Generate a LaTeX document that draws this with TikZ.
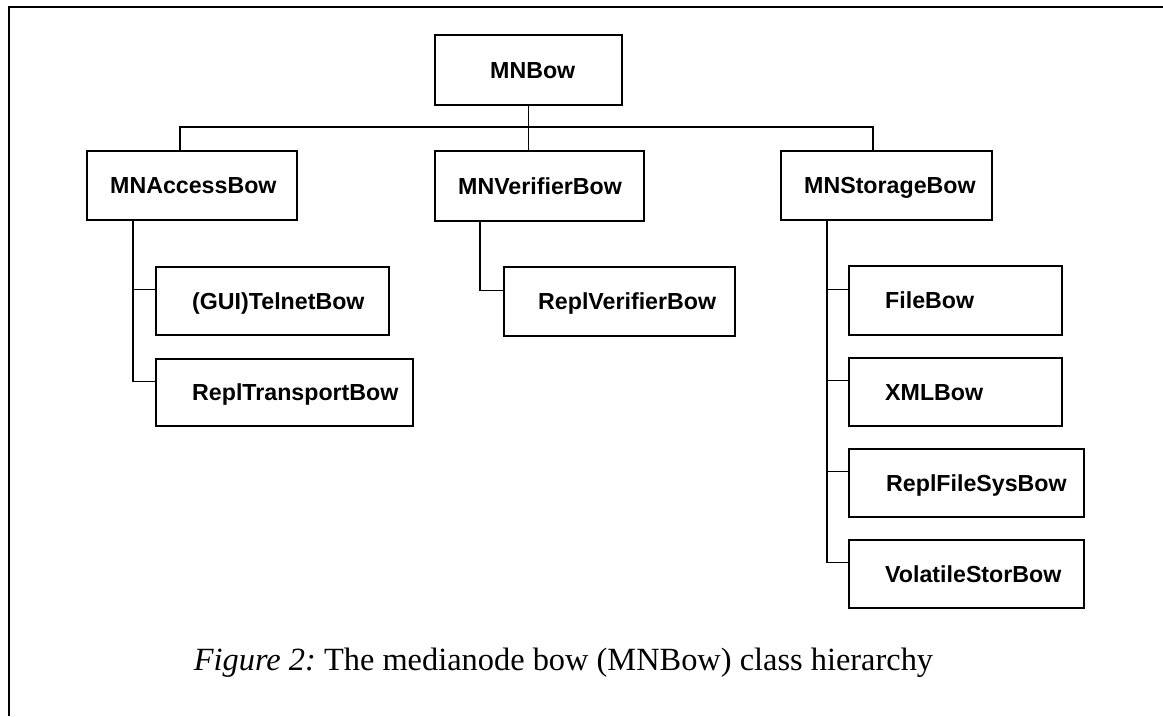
\documentclass[tikz,border=0pt]{standalone}
\usepackage{fontspec}
\setmainfont{Liberation Serif}
\newfontfamily\boxfont{Liberation Sans}
\begin{document}
\begin{tikzpicture}[x=1pt,y=-1pt,
  cls/.style={draw, line width=1.5pt, anchor=north west, inner sep=0pt},
  lbl/.style={font=\boxfont\bfseries\fontsize{23.2}{27}\selectfont, anchor=west, inner sep=0pt, text height=16.5pt, text depth=0pt},
  link/.style={line width=1.3pt},
  frame/.style={line width=1.4pt}
]
\useasboundingbox (0,0) rectangle (1163,716);
\draw[frame] (9,716) -- (9,7) -- (1163,7);

% boxes
\node[cls, minimum width=187pt, minimum height=70pt] (mnbow) at (434,34) {};
\node[cls, minimum width=210pt, minimum height=69pt] (acc) at (86,150) {};
\node[cls, minimum width=209pt, minimum height=70pt] (ver) at (434,150) {};
\node[cls, minimum width=211pt, minimum height=69pt] (sto) at (780,150) {};
\node[cls, minimum width=233pt, minimum height=68pt] (gui) at (155,266) {};
\node[cls, minimum width=257pt, minimum height=67pt] (rt) at (155,358) {};
\node[cls, minimum width=231pt, minimum height=69pt] (rv) at (503,266) {};
\node[cls, minimum width=213pt, minimum height=69pt] (fb) at (848,265) {};
\node[cls, minimum width=213pt, minimum height=68pt] (xml) at (848,357) {};
\node[cls, minimum width=235pt, minimum height=68pt] (rfs) at (848,448) {};
\node[cls, minimum width=235pt, minimum height=68pt] (vol) at (848,539) {};

% labels
\node[lbl] (mnbowT) at ([xshift=56pt]mnbow.west) {MNBow};
\node[lbl] (accT) at ([xshift=24pt]acc.west) {MNAccessBow};
\node[lbl] (verT) at ([xshift=24pt]ver.west) {MNVerifierBow};
\node[lbl] (stoT) at ([xshift=24pt]sto.west) {MNStorageBow};
\node[lbl] (guiT) at ([xshift=37pt]gui.west) {(GUI)TelnetBow};
\node[lbl] (rtT) at ([xshift=37pt]rt.west) {ReplTransportBow};
\node[lbl] (rvT) at ([xshift=35pt]rv.west) {ReplVerifierBow};
\node[lbl] (fbT) at ([xshift=37pt]fb.west) {FileBow};
\node[lbl] (xmlT) at ([xshift=37pt]xml.west) {XMLBow};
\node[lbl] (rfsT) at ([xshift=38pt]rfs.west) {ReplFileSysBow};
\node[lbl] (volT) at ([xshift=37pt]vol.west) {VolatileStorBow};

% top-level connectors
\coordinate (bus) at (0,127);
\coordinate (accTop) at ([xshift=94pt]acc.north west);
\coordinate (stoTop) at ([xshift=93pt]sto.north west);
\draw[link] (mnbow.south) -- (mnbow.south |- bus);
\draw[link] (accTop) -- (accTop |- bus) -- (stoTop |- bus) -- (stoTop);
\draw[link] (mnbow.south |- bus) -- (mnbow.south |- ver.north);

% access subtree
\coordinate (accS) at ([xshift=47pt]acc.south west);
\draw[link] (accS) |- ([yshift=11pt]gui.west);
\draw[link] (accS) |- ([yshift=11pt]rt.west);

% verifier subtree
\coordinate (verS) at ([xshift=46pt]ver.south west);
\draw[link] (verS) |- ([yshift=11pt]rv.west);

% storage subtree
\coordinate (stoS) at ([xshift=47pt]sto.south west);
\draw[link] (stoS) |- ([yshift=11pt]fb.west);
\draw[link] (stoS) |- ([yshift=11pt]xml.west);
\draw[link] (stoS) |- ([yshift=11pt]rfs.west);
\draw[link] (stoS) |- ([yshift=11pt]vol.west);

% caption
\node[anchor=base, inner sep=0pt, font=\fontsize{32.4}{38}\selectfont] (cap) at (563.5,670) {\textit{Figure 2:}~The medianode bow (MNBow) class hierarchy};
\end{tikzpicture}
\end{document}
